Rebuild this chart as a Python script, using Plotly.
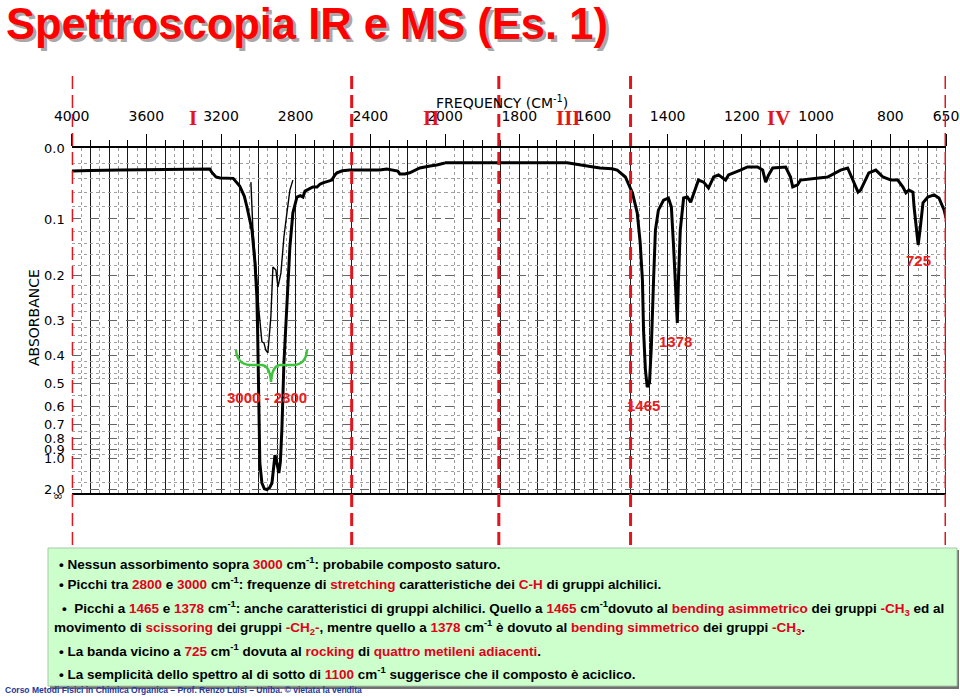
import numpy as np
import plotly.graph_objects as go

W, H = 960, 697


def px(x):
    return x / W


def py(y):
    return 1 - y / H


# spectrum: wavenumber (cm-1) and transmittance fraction
wn_main = [4000, 3900, 3740, 3527, 3300, 3260, 3250, 3227, 3205, 3135, 3100, 3075, 3061, 3045,
           3034, 3018, 3008, 3004, 2998, 2992, 2981, 2968, 2954, 2940, 2927, 2918, 2911, 2900,
           2890, 2882, 2874, 2863, 2847, 2831, 2815, 2800, 2793, 2775, 2761, 2750, 2740, 2725,
           2708, 2686, 2670, 2654, 2630, 2606, 2590, 2579, 2550, 2510, 2400, 2349, 2312, 2270,
           2253, 2242, 2215, 2189, 2160, 2135, 2080, 2044, 2000,
           1906, 1816, 1671, 1600, 1582, 1550, 1536, 1514, 1495, 1482, 1474, 1468, 1465, 1460,
           1455, 1449, 1444, 1438, 1433, 1425, 1411, 1398, 1390, 1384, 1379, 1374, 1371, 1366,
           1357, 1347, 1338, 1330, 1317, 1303, 1290, 1276, 1263, 1244, 1236, 1204, 1185, 1158,
           1144, 1136, 1128, 1117, 1082, 1069, 1063, 1050, 1042, 969, 934, 915, 901, 887, 880,
           871, 858, 839, 820, 798, 780, 766, 758, 750, 739, 736, 731, 725, 720, 712, 699, 682,
           669, 655, 650]
t_main = [0.933, 0.935, 0.936, 0.937, 0.939, 0.939, 0.930, 0.916, 0.913, 0.912, 0.890, 0.860,
          0.829, 0.790, 0.762, 0.667, 0.568, 0.472, 0.183, 0.087, 0.029, 0.012, 0.010, 0.015,
          0.029, 0.075, 0.110, 0.085, 0.058, 0.090, 0.183, 0.377, 0.568, 0.713, 0.812, 0.850,
          0.858, 0.862, 0.858, 0.875, 0.878, 0.884, 0.887, 0.887, 0.895, 0.899, 0.903, 0.907,
          0.922, 0.928, 0.934, 0.936, 0.936, 0.936, 0.939, 0.936, 0.933, 0.925, 0.925, 0.928,
          0.936, 0.942, 0.948, 0.951, 0.957,
          0.957, 0.958, 0.957, 0.945, 0.942, 0.940, 0.936, 0.916, 0.870, 0.812, 0.725, 0.617,
          0.472, 0.357, 0.307, 0.319, 0.423, 0.617, 0.762, 0.820, 0.849, 0.855, 0.829, 0.713,
          0.588, 0.493, 0.617, 0.762, 0.855, 0.858, 0.843, 0.870, 0.907, 0.901, 0.884, 0.916,
          0.922, 0.907, 0.922, 0.936, 0.945, 0.945, 0.936, 0.901, 0.922, 0.942, 0.945, 0.916,
          0.887, 0.893, 0.907, 0.916, 0.936, 0.942, 0.907, 0.872, 0.878, 0.899, 0.928, 0.936,
          0.916, 0.907, 0.907, 0.887, 0.870, 0.878, 0.872, 0.829, 0.771, 0.719, 0.762, 0.841,
          0.858, 0.864, 0.855, 0.820, 0.797]

# thinner overlaid trace of the C-H region
wn_thin = [3040, 3029, 3008, 2997, 2981, 2970, 2960, 2949, 2933, 2922, 2906, 2895, 2879, 2863,
           2847, 2831, 2815]
t_thin = [0.901, 0.762, 0.617, 0.530, 0.438, 0.435, 0.414, 0.406, 0.510, 0.655, 0.646, 0.597,
          0.638, 0.742, 0.812, 0.878, 0.907]

ticks_left = [4000, 3600, 3200, 2800, 2400, 2000]
ticks_right = [1800, 1600, 1400, 1200, 1000, 800, 650]
abs_labels = [0.0, 0.1, 0.2, 0.3, 0.4, 0.5, 0.6, 0.7, 0.8, 0.9, 1.0, 2.0]
abs_minor = ([a / 100 for a in range(2, 50, 2) if a % 10] +
             [0.55, 0.65, 0.75, 0.85, 0.95, 1.2, 1.5])
region_bounds = [4000, 2500, 1855, 1500, 650]
roman = ['I', 'II', 'III', 'IV']
peak_labels = ['1465', '1378', '725']

RED = '#e3141c'
LBL = '#e8201c'

wn = np.array(wn_main)
t = np.array(t_main)
left = wn >= 2000
right = wn <= 2000

fig = go.Figure()
fig.add_trace(go.Scatter(x=wn[left], y=t[left], xaxis='x', yaxis='y', mode='lines',
                         line=dict(color='black', width=3), hoverinfo='skip'))
fig.add_trace(go.Scatter(x=wn[right], y=t[right], xaxis='x2', yaxis='y', mode='lines',
                         line=dict(color='black', width=3), hoverinfo='skip'))
fig.add_trace(go.Scatter(x=wn_thin, y=t_thin, xaxis='x', yaxis='y', mode='lines',
                         line=dict(color='black', width=1.4), hoverinfo='skip'))
# dummy traces so the half-step grid axes get drawn
fig.add_trace(go.Scatter(x=[None], y=[None], xaxis='x3', yaxis='y', hoverinfo='skip'))
fig.add_trace(go.Scatter(x=[None], y=[None], xaxis='x4', yaxis='y', hoverinfo='skip'))

dom_l = [px(71.7), px(445)]
dom_r = [px(445), px(946)]
tickfont = dict(family='DejaVu Sans', size=14, color='black')

common_x = dict(side='top', anchor='y', ticks='outside', ticklen=12, tickwidth=1.3,
                tickcolor='black', showgrid=True, gridcolor='#1a1a1a', gridwidth=1.1,
                showline=True, linecolor='black', linewidth=2, mirror=True, zeroline=False,
                tickfont=tickfont, ticklabelstandoff=7, tickmode='array', automargin=False)

fig.update_layout(
    width=W, height=H,
    margin=dict(l=0, r=0, t=0, b=0, autoexpand=False),
    paper_bgcolor='white', plot_bgcolor='white',
    showlegend=False,
    xaxis=dict(domain=dom_l, range=[4000, 2000], tickvals=ticks_left,
               ticktext=[str(v) for v in ticks_left],
               minor=dict(tickmode='linear', tick0=0, dtick=100, ticks='outside', ticklen=6,
                          tickcolor='black', showgrid=True, gridcolor='#1a1a1a', gridwidth=1.1),
               **common_x),
    xaxis2=dict(domain=dom_r, range=[2000, 650], tickvals=ticks_right,
                ticktext=[str(v) for v in ticks_right],
                minor=dict(tickmode='linear', tick0=0, dtick=50, ticks='outside', ticklen=6,
                           tickcolor='black', showgrid=True, gridcolor='#1a1a1a', gridwidth=1.1),
                **common_x),
    xaxis3=dict(overlaying='x', range=[4000, 2000], anchor='y', side='top', tickmode='linear',
                tick0=50, dtick=100, showgrid=True, gridcolor='#9a9a9a', griddash='dot',
                showticklabels=False, ticks='', showline=False, zeroline=False,
                automargin=False),
    xaxis4=dict(overlaying='x2', range=[2000, 650], anchor='y', side='top', tickmode='linear',
                tick0=25, dtick=50, showgrid=True, gridcolor='#9a9a9a', griddash='dot',
                showticklabels=False, ticks='', showline=False, zeroline=False,
                automargin=False),
    yaxis=dict(domain=[py(493), py(148)], range=[0, 1], anchor='x', tickmode='array',
               tickvals=[10 ** -a for a in abs_labels],
               ticktext=[f'{a:.1f}' for a in abs_labels],
               ticks='', showgrid=True, gridcolor='#666666', griddash='dash', gridwidth=1,
               minor=dict(tickmode='array', tickvals=[10 ** -a for a in abs_minor], ticks='',
                          showgrid=True, gridcolor='#a0a0a0', griddash='dot', gridwidth=1),
               zeroline=False, showline=False, ticklabelstandoff=6, automargin=False,
               tickfont=dict(family='DejaVu Sans', size=13, color='black')),
)

shapes = []
# blank patch in the lower-left corner of the chart paper
shapes.append(dict(type='rect', xref='paper', yref='paper', x0=px(76), x1=px(126),
                   y0=py(490), y1=py(437), fillcolor='white', line=dict(width=0),
                   layer='between'))
# right border of the chart
shapes.append(dict(type='line', xref='x2', yref='paper', x0=650, x1=650, y0=py(493), y1=py(148),
                   line=dict(color='black', width=1.6), layer='between'))
# red dashed region boundaries
for b in region_bounds:
    shapes.append(dict(type='line', xref='x' if b >= 2000 else 'x2', yref='paper', x0=b, x1=b,
                       y0=py(545), y1=py(75), line=dict(color=RED, width=3, dash='13px,6px'),
                       layer='above'))


def path(points):
    cmds = []
    for c, pts in points:
        cmds.append(c + ' '.join(f'{px(x):.5f},{py(y):.5f}' for x, y in pts))
    return ' '.join(cmds)


brace = path([('M', [(236, 350)]), ('Q', [(237, 364), (250, 365)]), ('L', [(262, 365)]),
              ('Q', [(270, 366), (271, 382)]), ('Q', [(272, 366), (280, 365)]),
              ('L', [(294, 365)]), ('Q', [(306, 364), (307, 350)])])
shapes.append(dict(type='path', xref='paper', yref='paper', path=brace,
                   line=dict(color='#3cc43c', width=2.5), layer='above'))

# note box with shadow
shapes.append(dict(type='rect', xref='paper', yref='paper', x0=px(50), x1=px(959),
                   y0=py(689), y1=py(550), fillcolor='#707070', line=dict(width=0)))
shapes.append(dict(type='rect', xref='paper', yref='paper', x0=px(48), x1=px(957),
                   y0=py(686), y1=py(548), fillcolor='#ccffcc',
                   line=dict(color='#a8c8a8', width=1)))
fig.update_layout(shapes=shapes)

ann = []
title = 'Spettroscopia IR e MS (Es. 1)'
ann.append(dict(text=title, xref='paper', yref='paper', x=px(7), y=py(27), xanchor='left',
                yanchor='middle', showarrow=False,
                font=dict(family='Liberation Sans', size=43.5, color='#a8a8a8', weight='bold')))
ann.append(dict(text=title, xref='paper', yref='paper', x=px(4), y=py(24), xanchor='left',
                yanchor='middle', showarrow=False,
                font=dict(family='Liberation Sans', size=43.5, color='#ff0000', weight='bold')))

ann.append(dict(text='FREQUENCY (CM<sup>-1</sup>)', xref='paper', yref='paper', x=px(502),
                y=py(102), showarrow=False, xanchor='center', yanchor='middle',
                font=dict(family='DejaVu Sans', size=14, color='black')))
ann.append(dict(text='ABSORBANCE', xref='paper', yref='paper', x=px(34), y=py(318),
                textangle=-90, showarrow=False, xanchor='center', yanchor='middle',
                font=dict(family='DejaVu Sans', size=14, color='black')))
ann.append(dict(text='∞', xref='paper', yref='paper', x=px(58), y=py(496), showarrow=False,
                xanchor='center', yanchor='middle',
                font=dict(family='DejaVu Sans', size=12, color='black')))

for r, xc in zip(roman, [193, 431, 568, 778]):
    ann.append(dict(text=r, xref='paper', yref='paper', x=px(xc), y=py(118), showarrow=False,
                    xanchor='center', yanchor='middle',
                    font=dict(family='Liberation Serif', size=21, color=RED, weight='bold')))

lblfont = dict(family='Liberation Sans', size=15, color=LBL, weight='bold')
ann.append(dict(text='3000 - 2800', xref='paper', yref='paper', x=px(267), y=py(397),
                showarrow=False, xanchor='center', yanchor='middle', font=lblfont))
for lab, ypix in zip(peak_labels, [405, 341, 260]):
    ann.append(dict(text=lab, xref='x2', yref='paper', x=int(lab), y=py(ypix), showarrow=False,
                    xanchor='center', yanchor='middle', font=lblfont))


def r(s):
    return f"<span style='color:#e3001b'>{s}</span>"


cm = ' cm<sup>-1</sup>'
lines = [
    (57, 563, '• Nessun assorbimento sopra ' + r('3000') + cm + ': probabile composto saturo.'),
    (57, 583, '• Picchi tra ' + r('2800') + ' e ' + r('3000') + cm + ': frequenze di ' +
     r('stretching') + ' caratteristiche dei ' + r('C-H') + ' di gruppi alchilici.'),
    (60, 608, '•  Picchi a ' + r('1465') + ' e ' + r('1378') + cm +
     ': anche caratteristici di gruppi alchilici. Quello a ' + r('1465') + cm +
     'dovuto al ' + r('bending asimmetrico') + ' dei gruppi ' + r('-CH<sub>3</sub>') + ' ed al'),
    (52, 627, 'movimento di ' + r('scissoring') + ' dei gruppi ' + r('-CH<sub>2</sub>-') +
     ', mentre quello a ' + r('1378') + cm + ' è dovuto al ' + r('bending simmetrico') +
     ' dei gruppi ' + r('-CH<sub>3</sub>') + '.'),
    (57, 650, '• La banda vicino a ' + r('725') + cm + ' dovuta al ' + r('rocking') + ' di ' +
     r('quattro metileni adiacenti') + '.'),
    (57, 673, '• La semplicità dello spettro al di sotto di ' + r('1100') + cm +
     ' suggerisce che il composto è aciclico.'),
]
boxfont = dict(family='Liberation Sans', size=13.5, color='black', weight='bold')
for xl, yc, txt in lines:
    ann.append(dict(text=txt, xref='paper', yref='paper', x=px(xl), y=py(yc), showarrow=False,
                    xanchor='left', yanchor='middle', align='left', font=boxfont))

ann.append(dict(text='Corso Metodi Fisici in Chimica Organica – Prof. Renzo Luisi – Uniba. '
                     '© vietata la vendita',
                xref='paper', yref='paper', x=px(3), y=py(690), showarrow=False,
                xanchor='left', yanchor='middle',
                font=dict(family='Liberation Sans', size=8.5, color='#26389a', weight='bold')))

fig.update_layout(annotations=ann)
# drop the browser's default page margin so the figure sits at the window origin
fig.write_html('out.html', config={'displayModeBar': False},
               post_script="document.body.style.margin='0';")
